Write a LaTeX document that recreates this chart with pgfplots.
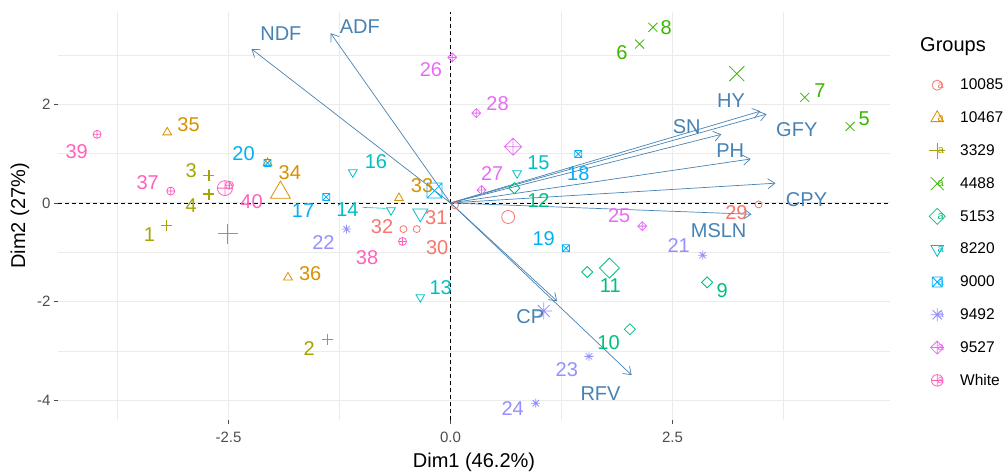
\documentclass[border=0pt]{standalone}
\usepackage{fontspec}
\setmainfont{Liberation Sans}
\usepackage{pgfplots}
\pgfplotsset{compat=1.18}
\usetikzlibrary{arrows.meta}

\definecolor{c1}{HTML}{F8766D}
\definecolor{c2}{HTML}{D89000}
\definecolor{c3}{HTML}{A3A500}
\definecolor{c4}{HTML}{39B600}
\definecolor{c5}{HTML}{00BF7D}
\definecolor{c6}{HTML}{00BFC4}
\definecolor{c7}{HTML}{00B0F6}
\definecolor{c8}{HTML}{9590FF}
\definecolor{c9}{HTML}{E76BF3}
\definecolor{c10}{HTML}{FF62BC}
\definecolor{steel}{HTML}{4682B4}
\definecolor{gridc}{HTML}{EBEBEB}
\definecolor{tickc}{HTML}{4D4D4D}

\newcommand{\labfont}{\fontsize{20}{20}\selectfont}

% ggplot-like marks
\pgfdeclareplotmark{gcirc}{\pgfpathcircle{\pgfpoint{0pt}{0pt}}{\pgfplotmarksize}\pgfusepathqstroke}
\pgfdeclareplotmark{gtri}{%
  \pgfpathmoveto{\pgfpoint{0pt}{\pgfplotmarksize}}%
  \pgfpathlineto{\pgfpoint{0.866\pgfplotmarksize}{-0.5\pgfplotmarksize}}%
  \pgfpathlineto{\pgfpoint{-0.866\pgfplotmarksize}{-0.5\pgfplotmarksize}}%
  \pgfpathclose\pgfusepathqstroke}
\pgfdeclareplotmark{gtrid}{%
  \pgfpathmoveto{\pgfpoint{0pt}{-\pgfplotmarksize}}%
  \pgfpathlineto{\pgfpoint{0.866\pgfplotmarksize}{0.5\pgfplotmarksize}}%
  \pgfpathlineto{\pgfpoint{-0.866\pgfplotmarksize}{0.5\pgfplotmarksize}}%
  \pgfpathclose\pgfusepathqstroke}
\pgfdeclareplotmark{gplus}{%
  \pgfpathmoveto{\pgfpoint{0pt}{\pgfplotmarksize}}\pgfpathlineto{\pgfpoint{0pt}{-\pgfplotmarksize}}%
  \pgfpathmoveto{\pgfpoint{\pgfplotmarksize}{0pt}}\pgfpathlineto{\pgfpoint{-\pgfplotmarksize}{0pt}}%
  \pgfusepathqstroke}
\pgfdeclareplotmark{gx}{%
  \pgfpathmoveto{\pgfpoint{-\pgfplotmarksize}{-\pgfplotmarksize}}\pgfpathlineto{\pgfpoint{\pgfplotmarksize}{\pgfplotmarksize}}%
  \pgfpathmoveto{\pgfpoint{-\pgfplotmarksize}{\pgfplotmarksize}}\pgfpathlineto{\pgfpoint{\pgfplotmarksize}{-\pgfplotmarksize}}%
  \pgfusepathqstroke}
\pgfdeclareplotmark{gdiam}{%
  \pgfpathmoveto{\pgfpoint{0pt}{\pgfplotmarksize}}\pgfpathlineto{\pgfpoint{\pgfplotmarksize}{0pt}}%
  \pgfpathlineto{\pgfpoint{0pt}{-\pgfplotmarksize}}\pgfpathlineto{\pgfpoint{-\pgfplotmarksize}{0pt}}%
  \pgfpathclose\pgfusepathqstroke}
\pgfdeclareplotmark{gdplus}{%
  \pgfpathmoveto{\pgfpoint{0pt}{\pgfplotmarksize}}\pgfpathlineto{\pgfpoint{\pgfplotmarksize}{0pt}}%
  \pgfpathlineto{\pgfpoint{0pt}{-\pgfplotmarksize}}\pgfpathlineto{\pgfpoint{-\pgfplotmarksize}{0pt}}%
  \pgfpathclose
  \pgfpathmoveto{\pgfpoint{0pt}{\pgfplotmarksize}}\pgfpathlineto{\pgfpoint{0pt}{-\pgfplotmarksize}}%
  \pgfpathmoveto{\pgfpoint{\pgfplotmarksize}{0pt}}\pgfpathlineto{\pgfpoint{-\pgfplotmarksize}{0pt}}%
  \pgfusepathqstroke}
\pgfdeclareplotmark{gsqx}{%
  \pgfpathrectangle{\pgfpoint{-\pgfplotmarksize}{-\pgfplotmarksize}}{\pgfpoint{2\pgfplotmarksize}{2\pgfplotmarksize}}%
  \pgfpathmoveto{\pgfpoint{-\pgfplotmarksize}{-\pgfplotmarksize}}\pgfpathlineto{\pgfpoint{\pgfplotmarksize}{\pgfplotmarksize}}%
  \pgfpathmoveto{\pgfpoint{-\pgfplotmarksize}{\pgfplotmarksize}}\pgfpathlineto{\pgfpoint{\pgfplotmarksize}{-\pgfplotmarksize}}%
  \pgfusepathqstroke}
\pgfdeclareplotmark{gast}{%
  \pgfpathmoveto{\pgfpoint{0pt}{\pgfplotmarksize}}\pgfpathlineto{\pgfpoint{0pt}{-\pgfplotmarksize}}%
  \pgfpathmoveto{\pgfpoint{\pgfplotmarksize}{0pt}}\pgfpathlineto{\pgfpoint{-\pgfplotmarksize}{0pt}}%
  \pgfpathmoveto{\pgfpoint{0.7071\pgfplotmarksize}{0.7071\pgfplotmarksize}}\pgfpathlineto{\pgfpoint{-0.7071\pgfplotmarksize}{-0.7071\pgfplotmarksize}}%
  \pgfpathmoveto{\pgfpoint{-0.7071\pgfplotmarksize}{0.7071\pgfplotmarksize}}\pgfpathlineto{\pgfpoint{0.7071\pgfplotmarksize}{-0.7071\pgfplotmarksize}}%
  \pgfusepathqstroke}
\pgfdeclareplotmark{gcplus}{%
  \pgfpathcircle{\pgfpoint{0pt}{0pt}}{\pgfplotmarksize}%
  \pgfpathmoveto{\pgfpoint{0pt}{\pgfplotmarksize}}\pgfpathlineto{\pgfpoint{0pt}{-\pgfplotmarksize}}%
  \pgfpathmoveto{\pgfpoint{\pgfplotmarksize}{0pt}}\pgfpathlineto{\pgfpoint{-\pgfplotmarksize}{0pt}}%
  \pgfusepathqstroke}

\pgfplotsset{
  legimg/.style={legend image code/.code={%
    \path[draw=none, fill=none] (-9pt,-16.4pt) rectangle (9pt,16.4pt);
    \draw[##1, mark options={scale=1.45}] plot coordinates {(0pt,0pt)};
    \node[text=#1, inner sep=0pt, font=\fontsize{11}{11}\selectfont] at (0pt,-1pt) {a};}},
  grp/.style={only marks, color=#1, line width=0.8pt},
  lab/.style={only marks, mark=none, forget plot, nodes near coords, point meta=explicit symbolic,
    every node near coord/.append style={anchor=center, text=#1, font=\labfont, inner sep=0pt}},
}

\begin{document}
\begin{tikzpicture}
\begin{axis}[
  at={(58pt,52pt)}, anchor=south west,
  scale only axis, width=832pt, height=408pt,
  xmin=-4.42, xmax=4.95, ymin=-4.40, ymax=3.87,
  axis line style={draw=none},
  xtick={-2.5,0,2.5}, xticklabels={-2.5,0.0,2.5},
  ytick={-4,-2,0,2}, yticklabels={-4,-2,0,2},
  minor xtick={-3.75,-1.25,1.25,3.75}, minor ytick={-3,-1,1,3},
  grid=both,
  major grid style={draw=gridc, line width=0.9pt},
  minor grid style={draw=gridc, line width=0.5pt},
  xtick pos=bottom, ytick pos=left,
  tick align=outside, major tick length=4pt, minor tick length=0pt,
  tick style={draw=tickc, line width=0.8pt},
  ticklabel style={font=\fontsize{15}{15}\selectfont, text=tickc},
  xticklabel style={yshift=-4pt},
  xlabel={Dim1 (46.2\%)}, ylabel={Dim2 (27\%)},
  xlabel style={at={(axis description cs:0.5,-0.103)}, anchor=center, font=\fontsize{20}{20}\selectfont},
  ylabel style={at={(axis description cs:-0.0457,0.5)}, anchor=center, font=\fontsize{20}{20}\selectfont},
  legend style={at={(1.0457,0.8613)}, anchor=north west, draw=none, fill=none, inner sep=0pt,
    row sep=0pt, font=\fontsize{15.5}{16}\selectfont, nodes={inner sep=0pt},
    /tikz/every odd column/.append style={column sep=14pt}},
  legend cell align=left,
]
% zero lines
\addplot[forget plot, black, line width=0.8pt, dash pattern=on 4pt off 3pt] coordinates {(-4.42,0) (4.95,0)};
\addplot[forget plot, black, line width=0.8pt, dash pattern=on 4pt off 3pt] coordinates {(0,-4.40) (0,3.87)};

% ---- group points ----
\addplot[grp=c1, mark=gcirc, mark size=3.5pt, legimg=c1] table {
x y
3.47 -0.03
-0.38 -0.53
0.05 -0.05
-0.53 -0.53
};
\addlegendentry{10085}
\addplot[grp=c2, mark=gtri, mark size=5pt, legimg=c2] table {
x y
-0.58 0.10
-2.06 0.81
-3.19 1.43
-1.83 -1.51
};
\addlegendentry{10467}
\addplot[grp=c3, line width=1.1pt, mark=gplus, mark size=5.5pt, legimg=c3] table {
x y
-3.20 -0.45
-1.39 -2.76
-2.72 0.56
-2.72 0.18
};
\addlegendentry{3329}
\addplot[grp=c4, mark=gx, mark size=4.5pt, legimg=c4] table {
x y
4.50 1.55
2.13 3.22
3.99 2.14
2.28 3.56
};
\addlegendentry{4488}
\addplot[grp=c5, mark=gdiam, mark size=5.5pt, legimg=c5] table {
x y
2.89 -1.61
2.02 -2.56
1.54 -1.40
0.72 0.30
};
\addlegendentry{5153}
\addplot[grp=c6, mark=gtrid, mark size=5pt, legimg=c6] table {
x y
-0.34 -1.91
-0.67 -0.15
0.75 0.60
-1.10 0.62
};
\addlegendentry{8220}
\addplot[grp=c7, mark=gsqx, mark size=3.5pt, legimg=c7] table {
x y
-1.40 0.12
1.44 0.99
1.30 -0.92
-2.06 0.81
};
\addlegendentry{9000}
\addplot[grp=c8, mark=gast, mark size=4.5pt, legimg=c8] table {
x y
2.84 -1.06
-1.17 -0.53
1.56 -3.11
0.96 -4.06
};
\addlegendentry{9492}
\addplot[grp=c9, mark=gdplus, mark size=4.5pt, legimg=c9] table {
x y
2.16 -0.47
0.02 2.95
0.35 0.26
0.29 1.82
};
\addlegendentry{9527}
\addplot[grp=c10, mark=gcplus, mark size=4pt, legimg=c10] table {
x y
-3.15 0.24
-0.54 -0.78
-3.98 1.39
-2.49 0.36
};
\addlegendentry{White}

% ---- group centroids ----
\addplot[grp=c1, mark=gcirc, mark size=6.5pt, forget plot] coordinates {(0.65,-0.285)};
\addplot[grp=c2, mark=gtri, mark size=11.5pt, forget plot] coordinates {(-1.915,0.21)};
\addplot[grp=c3, line width=1.1pt, mark=gplus, mark size=10pt, forget plot] coordinates {(-2.51,-0.62)};
\addplot[grp=c4, mark=gx, mark size=7.5pt, forget plot] coordinates {(3.225,2.62)};
\addplot[grp=c5, mark=gdiam, mark size=10pt, forget plot] coordinates {(1.79,-1.32)};
\addplot[grp=c6, mark=gtrid, mark size=8.7pt, forget plot] coordinates {(-0.34,-0.21)};
\addplot[grp=c7, mark=gsqx, mark size=7.5pt, forget plot] coordinates {(-0.18,0.25)};
\addplot[grp=c8, mark=gast, mark size=8.5pt, forget plot] coordinates {(1.05,-2.19)};
\addplot[grp=c9, mark=gdplus, mark size=8.5pt, forget plot] coordinates {(0.705,1.14)};
\addplot[grp=c10, mark=gcplus, mark size=7.5pt, forget plot] coordinates {(-2.54,0.30)};

% repel segment for 14
\addplot[forget plot, c6, line width=0.6pt] coordinates {(-0.99,-0.09) (-0.73,-0.11)};

% ---- point labels ----
\addplot[lab=c1] table[meta=l] {
x y l
3.22 -0.20 29
-0.15 -0.90 30
-0.16 -0.29 31
-0.77 -0.49 32
};
\addplot[lab=c2] table[meta=l] {
x y l
-0.32 0.36 33
-1.81 0.62 34
-2.95 1.58 35
-1.58 -1.43 36
};
\addplot[lab=c3] table[meta=l] {
x y l
-3.39 -0.65 1
-1.59 -2.95 2
-2.92 0.66 3
-2.92 -0.05 4
};
\addplot[lab=c4] table[meta=l] {
x y l
4.66 1.71 5
1.93 3.05 6
4.16 2.27 7
2.43 3.56 8
};
\addplot[lab=c5] table[meta=l] {
x y l
3.06 -1.77 9
1.78 -2.84 10
1.80 -1.67 11
0.99 0.05 12
};
\addplot[lab=c6] table[meta=l] {
x y l
-0.11 -1.71 13
-1.16 -0.13 14
0.99 0.81 15
-0.84 0.83 16
};
\addplot[lab=c7] table[meta=l] {
x y l
-1.66 -0.15 17
1.44 0.60 18
1.05 -0.72 19
-2.33 1.00 20
};
\addplot[lab=c8] table[meta=l] {
x y l
2.57 -0.86 21
-1.43 -0.80 22
1.31 -3.37 23
0.70 -4.16 24
};
\addplot[lab=c9] table[meta=l] {
x y l
1.90 -0.25 25
-0.22 2.71 26
0.47 0.60 27
0.53 2.02 28
};
\addplot[lab=c10] table[meta=l] {
x y l
-3.41 0.42 37
-0.94 -1.10 38
-4.21 1.03 39
-2.24 0.03 40
};

% ---- variable arrows ----
\pgfplotsset{arr/.style={forget plot, steel, line width=0.7pt, -{Straight Barb[length=7pt,width=10pt]}}}
\addplot[arr] coordinates {(0,0) (-2.24,3.12)};
\addplot[arr] coordinates {(0,0) (-1.35,3.44)};
\addplot[arr] coordinates {(0,0) (3.49,1.86)};
\addplot[arr] coordinates {(0,0) (3.56,1.80)};
\addplot[arr] coordinates {(0,0) (3.05,1.39)};
\addplot[arr] coordinates {(0,0) (3.38,0.89)};
\addplot[arr] coordinates {(0,0) (3.66,0.40)};
\addplot[arr] coordinates {(0,0) (3.39,-0.23)};
\addplot[arr] coordinates {(0,0) (1.20,-1.99)};
\addplot[arr] coordinates {(0,0) (2.04,-3.49)};

\addplot[lab=steel] table[meta=l] {
x y l
-1.91 3.44 NDF
-1.02 3.58 ADF
3.16 2.08 HY
3.90 1.49 GFY
2.66 1.54 SN
3.15 1.05 PH
4.01 0.07 CPY
3.02 -0.57 MSLN
0.90 -2.31 CP
1.69 -3.86 RFV
};
\end{axis}
\node[anchor=west, font=\fontsize{20}{20}\selectfont, inner sep=0pt] at (920pt,425pt) {Groups};
\pgfresetboundingbox
\useasboundingbox (0,0) rectangle (1008pt,472pt);
\end{tikzpicture}
\end{document}
